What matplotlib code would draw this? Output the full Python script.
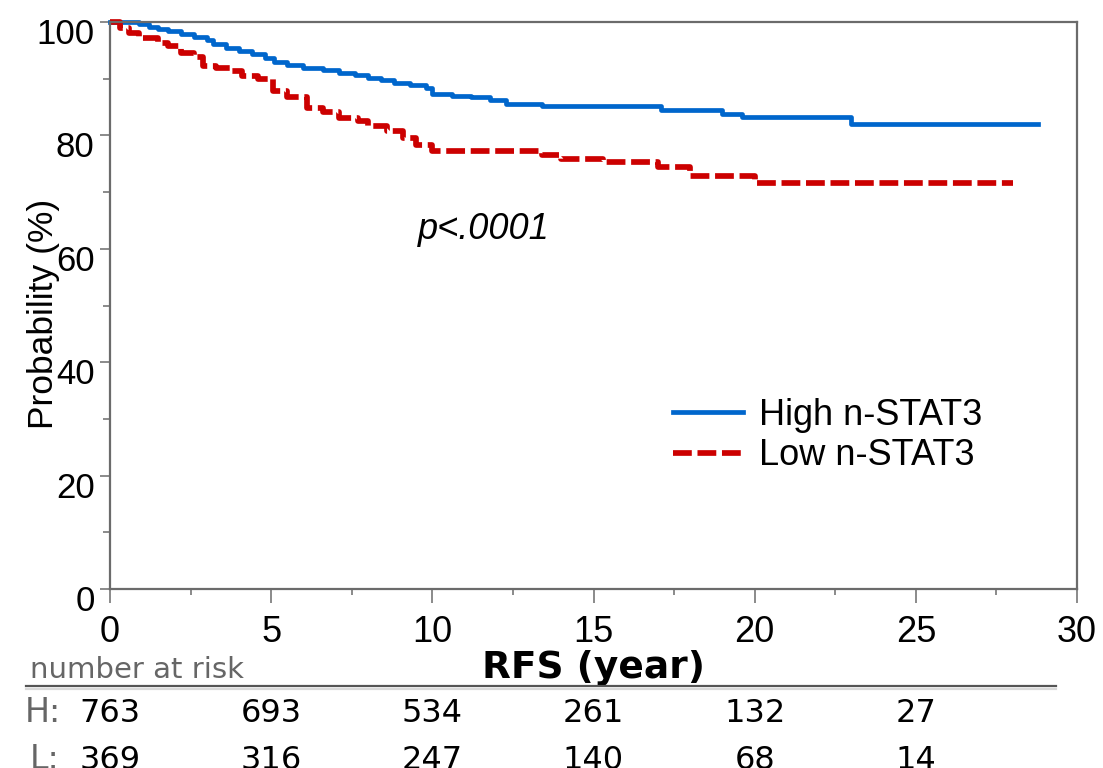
import numpy as np
import matplotlib
matplotlib.use("Agg")
import matplotlib.pyplot as plt
import matplotlib.transforms as mtransforms
import matplotlib.patheffects as pe
from matplotlib.lines import Line2D
from matplotlib.ticker import MultipleLocator

# Kaplan-Meier steps (time in years, survival in %)
high_t = [0, 0.9, 1.2, 1.5, 1.8, 2.2, 2.6, 3.0, 3.2, 3.6, 4.0, 4.4, 4.8, 5.1, 5.5,
          6.0, 6.6, 7.1, 7.6, 8.0, 8.4, 8.8, 9.3, 9.8, 10.0, 10.6, 11.2, 11.8,
          12.3, 13.4, 17.1, 19.0, 19.6, 23.0]
high_v = [100, 99.6, 99.2, 98.8, 98.4, 97.9, 97.4, 96.9, 96.1, 95.5, 94.9, 94.4,
          93.7, 93.0, 92.5, 91.9, 91.5, 91.0, 90.6, 90.1, 89.7, 89.3, 88.9, 88.4,
          87.3, 87.0, 86.7, 86.2, 85.6, 85.1, 84.4, 83.8, 83.2, 82.0]
high_end = 28.8

low_t = [0, 0.3, 0.6, 0.9, 1.5, 1.8, 2.2, 2.6, 2.9, 3.3, 3.8, 4.1, 4.6, 5.05, 5.5,
         6.1, 6.6, 7.1, 7.7, 8.0, 8.6, 9.1, 9.5, 10.0, 13.4, 14.0, 15.3, 17.0,
         18.0, 20.0]
low_v = [100, 99.0, 98.1, 97.1, 96.3, 95.7, 94.5, 93.9, 92.2, 91.9, 91.3, 90.4,
         89.9, 87.8, 86.8, 84.9, 84.2, 83.1, 82.5, 81.6, 80.7, 79.6, 78.3, 77.3,
         76.6, 75.8, 75.3, 74.5, 72.8, 71.6]
low_end = 28.0

risk_times = [0, 5, 10, 15, 20, 25]
risk_high = [763, 693, 534, 261, 132, 27]
risk_low = [369, 316, 247, 140, 68, 14]

W, H = 1103, 768
fig = plt.figure(figsize=(W / 100, H / 100), dpi=100)
ax = fig.add_axes([110 / W, 1 - 589 / H, (1077 - 110) / W, (589 - 22) / H])

arial = "Liberation Sans"
verdana = "DejaVu Sans"
spine_c = "#6b6b6b"

ax.step(np.append(high_t, high_end), np.append(high_v, high_v[-1]), where="post",
        color="#0066cc", lw=3.4, clip_on=False, label="High n-STAT3")
ax.step(np.append(low_t, low_end), np.append(low_v, low_v[-1]), where="post",
        color="#cc0000", lw=4.1, ls=(0, (3.3, 1.0)), clip_on=False,
        label="Low n-STAT3")

ax.set_xlim(0, 30)
ax.set_ylim(0, 100)
ax.xaxis.set_major_locator(MultipleLocator(5))
ax.xaxis.set_minor_locator(MultipleLocator(2.5))
ax.yaxis.set_major_locator(MultipleLocator(20))
ax.yaxis.set_minor_locator(MultipleLocator(10))

for s in ax.spines.values():
    s.set_color(spine_c)
    s.set_linewidth(1.6)

ax.tick_params(axis="x", which="major", direction="out", length=10, width=1.1,
               color=spine_c, pad=9, labelsize=26)
ax.tick_params(axis="x", which="minor", direction="out", length=4.5, width=1.1,
               color=spine_c)
ax.tick_params(axis="y", which="major", direction="out", length=7, width=1.1,
               color=spine_c, pad=4, labelsize=25)
ax.tick_params(axis="y", which="minor", direction="out", length=5, width=1.1,
               color=spine_c)
for lab in ax.get_xticklabels() + ax.get_yticklabels():
    lab.set_fontfamily(arial)
# y labels sit a little below their ticks in the original
shift = mtransforms.ScaledTranslation(0, -9 / 100, fig.dpi_scale_trans)
for lab in ax.get_yticklabels():
    lab.set_transform(lab.get_transform() + shift)

ax.set_ylabel("Probability (%)", fontsize=25.5, family=arial, va="baseline")
ax.yaxis.set_label_coords((53 - 110) / 967, (589 - 314) / 567)

ax.set_xlabel("RFS (year)", fontsize=27, family=verdana, weight="bold",
              va="baseline")
ax.xaxis.set_label_coords(0.5, (589 - 678) / 567)

ax.text(9.55, 63.4, "p<.0001", fontsize=26, family=arial, style="italic",
        ha="left", va="center")

ax.legend(loc="upper left", bbox_to_anchor=(0.582, 0.337), frameon=False,
          prop={"family": arial, "size": 26}, handlelength=1.95,
          handletextpad=0.45, labelspacing=0.15, borderpad=0, borderaxespad=0)

# number at risk table
fig.text(30 / W, 1 - 678 / H, "number at risk", fontsize=21, family=verdana,
         color="#666666", va="baseline")
sep = Line2D([26 / W, 1056 / W], [1 - 686 / H] * 2, transform=fig.transFigure,
             color="#555555", lw=1.6,
             path_effects=[pe.SimpleLineShadow(offset=(0, -2), alpha=0.15), pe.Normal()])
fig.add_artist(sep)

tr = mtransforms.blended_transform_factory(ax.transData, fig.transFigure)
fig.text(25 / W, 1 - 722 / H, "H:", fontsize=24, family=verdana, color="#666666",
         va="baseline")
fig.text(30 / W, 1 - 769 / H, "L:", fontsize=24, family=verdana, color="#666666",
         va="baseline")
for t, nh, nl in zip(risk_times, risk_high, risk_low):
    ax.text(t, 1 - 722 / H, str(nh), transform=tr, fontsize=23, family=verdana,
            ha="center", va="baseline", clip_on=False)
    ax.text(t, 1 - 769 / H, str(nl), transform=tr, fontsize=23, family=verdana,
            ha="center", va="baseline", clip_on=False)

fig.savefig("out.png", dpi=100)
